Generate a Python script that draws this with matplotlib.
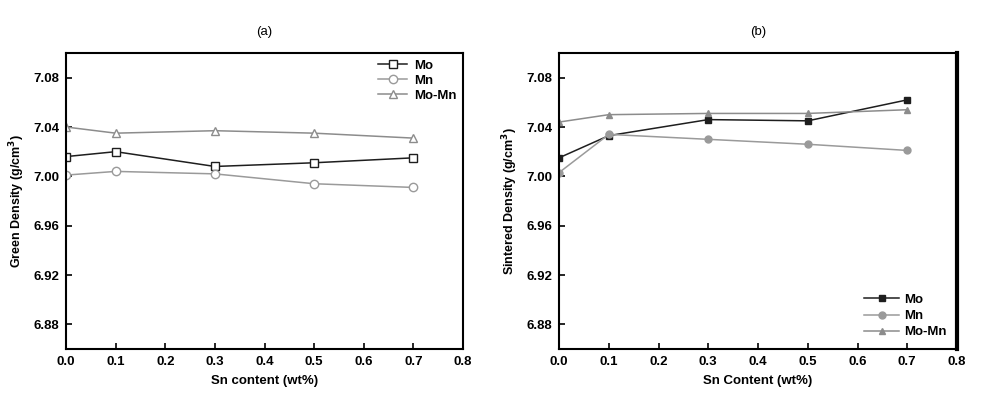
import matplotlib
matplotlib.use("Agg")
import matplotlib.pyplot as plt

plt.rcParams['font.family'] = ['Liberation Sans', 'DejaVu Sans']
plt.rcParams['font.weight'] = 'bold'
plt.rcParams['axes.labelweight'] = 'bold'

sn = [0.0, 0.1, 0.3, 0.5, 0.7]

# (a) green density
green_mo = [7.016, 7.020, 7.008, 7.011, 7.015]
green_mn = [7.001, 7.004, 7.002, 6.994, 6.991]
green_momn = [7.040, 7.035, 7.037, 7.035, 7.031]

# (b) sintered density
sint_mo = [7.015, 7.033, 7.046, 7.045, 7.062]
sint_mn = [7.003, 7.034, 7.030, 7.026, 7.021]
sint_momn = [7.044, 7.050, 7.051, 7.051, 7.054]

series = ['Mo', 'Mn', 'Mo-Mn']
colors = ['#1e1e1e', '#9a9a9a', '#8c8c8c']
markers = ['s', 'o', '^']

yticks = [6.88, 6.92, 6.96, 7.00, 7.04, 7.08]
xticks = [0.0, 0.1, 0.2, 0.3, 0.4, 0.5, 0.6, 0.7, 0.8]

fig = plt.figure(figsize=(9.94, 4.08), dpi=100)
ax1 = fig.add_axes([0.0664, 0.1446, 0.3994, 0.7255])
ax2 = fig.add_axes([0.5624, 0.1446, 0.4004, 0.7255])


def style(ax, title, ylabel, xlabel):
    ax.set_xlim(0, 0.8)
    ax.set_ylim(6.86, 7.10)
    ax.set_xticks(xticks)
    ax.set_yticks(yticks)
    ax.set_yticklabels(['%.2f' % v for v in yticks])
    ax.set_xticklabels(['%.1f' % v for v in xticks])
    ax.tick_params(direction='in', length=4, width=1.2, labelsize=9.5, pad=5)
    for s in ax.spines.values():
        s.set_linewidth(1.5)
    ax.set_title(title, fontsize=9.5, pad=13, fontweight='normal')
    ax.set_ylabel(ylabel, fontsize=9)
    ax.set_xlabel(xlabel, fontsize=9.5, labelpad=5)


for vals, name, c, m in zip([green_mo, green_mn, green_momn], series, colors, markers):
    ax1.plot(sn, vals, color=c, marker=m, markersize=6, markerfacecolor='white',
             markeredgecolor=c, linewidth=1.1, label=name)
style(ax1, '(a)', 'Green Density (g/cm$^3$)', 'Sn content (wt%)')
ax1.legend(loc='upper right', frameon=False, fontsize=9.5, handlelength=2.2,
           borderaxespad=0.1, labelspacing=0.2, handletextpad=0.5)

for vals, name, c, m in zip([sint_mo, sint_mn, sint_momn], series, colors, markers):
    ax2.plot(sn, vals, color=c, marker=m, markersize=5, linewidth=1.1, label=name)
style(ax2, '(b)', 'Sintered Density (g/cm$^3$)', 'Sn Content (wt%)')
ax2.spines['right'].set_linewidth(3)
ax2.legend(loc='lower right', frameon=False, fontsize=9.5, handlelength=2.6,
           borderaxespad=0.4, labelspacing=0.3, handletextpad=0.4)

fig.savefig('out.png', dpi=100)
